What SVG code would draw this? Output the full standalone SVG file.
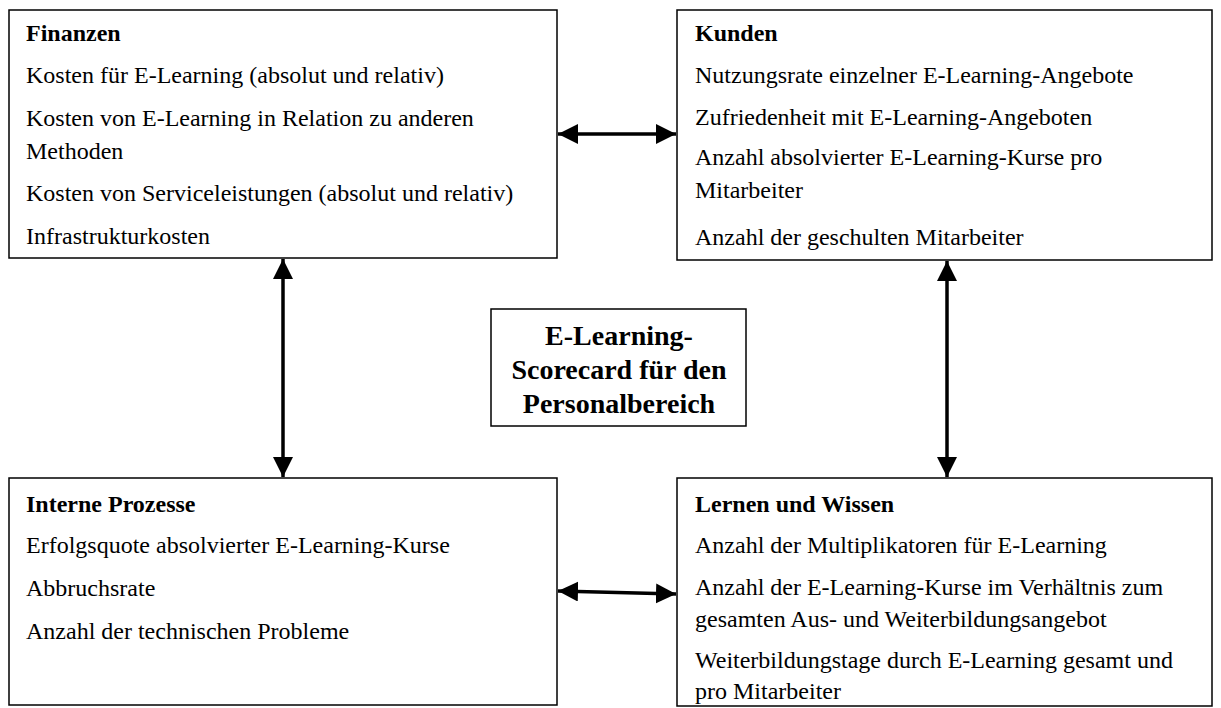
<svg xmlns="http://www.w3.org/2000/svg" width="1221" height="708" viewBox="0 0 1221 708">
<style>
.box{fill:#fff;stroke:#000;stroke-width:1.5}
.t{font-family:"Liberation Serif","Times New Roman",serif;font-size:24px;fill:#000}
.h{font-weight:bold}
.c{font-family:"Liberation Serif","Times New Roman",serif;font-size:28px;font-weight:bold;fill:#000;text-anchor:middle}
.con{stroke:#000;stroke-width:3.5;fill:none;marker-start:url(#ah);marker-end:url(#ah)}
</style>
<defs>
<marker id="ah" viewBox="0 0 20 20" refX="20" refY="10" markerWidth="20" markerHeight="20" markerUnits="userSpaceOnUse" orient="auto-start-reverse">
<path d="M0,0 L20,10 L0,20 Z" fill="#000"/>
</marker>
</defs>
<rect width="1221" height="708" fill="#fff"/>
<g id="connectors">
<line class="con" x1="558" y1="134" x2="676" y2="134"/>
<line class="con" x1="558" y1="591" x2="676" y2="594"/>
<line class="con" x1="283" y1="259" x2="283" y2="477"/>
<line class="con" x1="947" y1="261" x2="947" y2="477"/>
</g>
<g id="finanzen">
<rect class="box" x="9" y="10" width="548" height="248"/>
<text class="t h" x="26" y="41">Finanzen</text>
<text class="t" x="26" y="83">Kosten für E-Learning (absolut und relativ)</text>
<text class="t" x="26" y="126">Kosten von E-Learning in Relation zu anderen</text>
<text class="t" x="26" y="159">Methoden</text>
<text class="t" x="26" y="201">Kosten von Serviceleistungen (absolut und relativ)</text>
<text class="t" x="26" y="244">Infrastrukturkosten</text>
</g>
<g id="kunden">
<rect class="box" x="677" y="10" width="535" height="250"/>
<text class="t h" x="695" y="41">Kunden</text>
<text class="t" x="695" y="83">Nutzungsrate einzelner E-Learning-Angebote</text>
<text class="t" x="695" y="125">Zufriedenheit mit E-Learning-Angeboten</text>
<text class="t" x="695" y="165">Anzahl absolvierter E-Learning-Kurse pro</text>
<text class="t" x="695" y="198">Mitarbeiter</text>
<text class="t" x="695" y="245">Anzahl der geschulten Mitarbeiter</text>
</g>
<g id="center">
<rect class="box" x="491" y="309" width="255" height="117"/>
<text class="c" x="619" y="345">E-Learning-</text>
<text class="c" x="619" y="379">Scorecard für den</text>
<text class="c" x="619" y="413">Personalbereich</text>
</g>
<g id="interne">
<rect class="box" x="9" y="478" width="548" height="227"/>
<text class="t h" x="26" y="512">Interne Prozesse</text>
<text class="t" x="26" y="553">Erfolgsquote absolvierter E-Learning-Kurse</text>
<text class="t" x="26" y="596">Abbruchsrate</text>
<text class="t" x="26" y="639">Anzahl der technischen Probleme</text>
</g>
<g id="lernen">
<rect class="box" x="677" y="478" width="535" height="228"/>
<text class="t h" x="695" y="512">Lernen und Wissen</text>
<text class="t" x="695" y="553">Anzahl der Multiplikatoren für E-Learning</text>
<text class="t" x="695" y="595">Anzahl der E-Learning-Kurse im Verhältnis zum</text>
<text class="t" x="695" y="627">gesamten Aus- und Weiterbildungsangebot</text>
<text class="t" x="695" y="668">Weiterbildungstage durch E-Learning gesamt und</text>
<text class="t" x="695" y="699">pro Mitarbeiter</text>
</g>
</svg>
